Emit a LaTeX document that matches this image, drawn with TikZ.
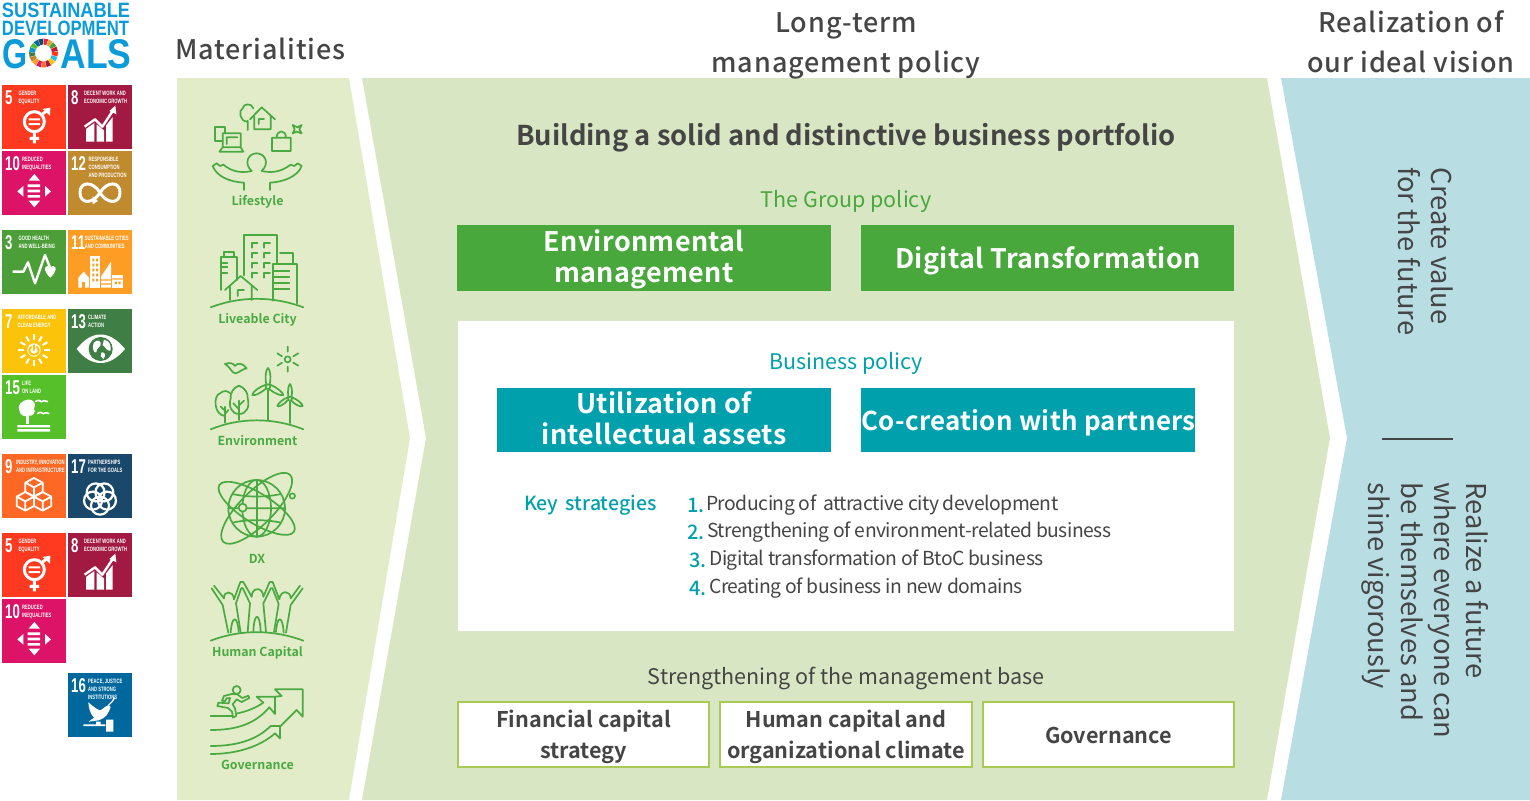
\documentclass[tikz,border=0pt]{standalone}
\usepackage{fontspec}
\usepackage{graphicx}
\usetikzlibrary{calc}
\setmainfont{Noto Sans CJK JP}[BoldFont={Noto Sans CJK JP Bold}]
\newfontfamily\medf{Noto Sans CJK JP Medium}
\newfontfamily\medsp{Noto Sans CJK JP Medium}[LetterSpace=3]
\newfontfamily\boldsp{Noto Sans CJK JP Bold}[LetterSpace=1.2]
\newfontfamily\tightf{Noto Sans CJK JP}[LetterSpace=-2.5]
\newfontfamily\sdgf{Liberation Sans}[FakeStretch=.66,BoldFont={Liberation Sans Bold}]
\newfontfamily\logof{Liberation Sans}[BoldFont={Liberation Sans Bold}]
\definecolor{cfive}{HTML}{FF3A21}
\definecolor{ceight}{HTML}{A21942}
\definecolor{cten}{HTML}{DD1367}
\definecolor{ctwelve}{HTML}{BF8B2E}
\definecolor{cthree}{HTML}{4C9F38}
\definecolor{celeven}{HTML}{FD9D24}
\definecolor{cseven}{HTML}{FCC30B}
\definecolor{cthirteen}{HTML}{3F7E44}
\definecolor{cfifteen}{HTML}{56C02B}
\definecolor{cnine}{HTML}{FD6925}
\definecolor{cseventeen}{HTML}{19486A}
\definecolor{csixteen}{HTML}{00689D}
\definecolor{cone}{HTML}{E5243B}
\definecolor{ctwo}{HTML}{DDA63A}
\definecolor{cfour}{HTML}{C5192D}
\definecolor{csix}{HTML}{26BDE2}
\definecolor{cfourteen}{HTML}{0A97D9}
\definecolor{logoblue}{HTML}{0A9BD8}
\definecolor{leftbg}{HTML}{E2ECC8}
\definecolor{midbg}{HTML}{D8E6C3}
\definecolor{rightbg}{HTML}{B8DEE3}
\definecolor{grn}{HTML}{48A83C}
\definecolor{icongrn}{HTML}{4AAA42}
\definecolor{teal1}{HTML}{00A1AC}
\definecolor{ink}{HTML}{454545}
\definecolor{boxline}{HTML}{A8CB55}
\tikzset{
  head/.style={inner sep=0,text=ink,align=center,font=\medsp\fontsize{27}{40}\selectfont},
  sub/.style={inner sep=0,align=center,font=\fontsize{21.5}{28}\selectfont},
  bar/.style={inner sep=0,text=white,align=center,font=\boldsp\fontsize{26.9}{31}\selectfont},
  basebox/.style={draw=boxline,line width=1.4pt,fill=white,inner sep=0,minimum height=65pt},
  base/.style={inner sep=0,text=ink,align=center,font=\bfseries\fontsize{21.6}{31}\selectfont},
  vert/.style={inner sep=0,text=ink,align=left,rotate=-90,font=\fontsize{27.3}{32.7}\selectfont},
  item/.style={inner sep=0,anchor=west,text=ink,font=\tightf\fontsize{19.3}{24}\selectfont},
  num/.style={inner sep=0,anchor=west,text=teal1,font=\medf\fontsize{20}{24}\selectfont},
  ilabel/.style={inner sep=0,text=icongrn,font=\bfseries\fontsize{12.4}{14}\selectfont},
  ic/.style={draw=icongrn,line width=1.7pt,line cap=round,line join=round},
  tile/.style={inner sep=0,minimum size=64pt},
  wl/.style={draw=white,line width=2.4pt,line join=round},
  tnum/.style={inner sep=0,anchor=west,text=white,font=\sdgf\bfseries\fontsize{20}{20}\selectfont},
  ttxt/.style={inner sep=0,anchor=north west,text=white,align=left,font=\sdgf\bfseries\fontsize{6.3}{7.7}\selectfont},
}
% ---- SDG tile icons: local coordinates, 192 units = tile side
\newcommand\icfive{
  \draw[wl,line width=3pt] (97,110) circle (30);
  \fill[white] (80,100) rectangle (114,106) (80,114) rectangle (114,120);
  \draw[wl,line width=3pt] (97,140)--(97,175) (83,160)--(111,160) (118,90)--(136,76);
  \fill[white] (122,72)--(145,68)--(144,92)--cycle;
}
\newcommand\iceight{
  \fill[white] (54,132)--(79,114)--(79,170)--(54,170)--cycle (86,118)--(108,136)--(108,170)--(86,170)--cycle (114,122)--(134,96)--(134,170)--(114,170)--cycle;
  \draw[wl] (50,125)--(81,103)--(103,125)--(134,78);
  \fill[white] (124,78)--(142,62)--(145,88)--cycle;
}
\newcommand\icten{
  \fill[white] (97,69)--(114,89)--(80,89)--cycle (97,169)--(114,149)--(80,149)--cycle (46,121)--(64,105)--(64,137)--cycle (147,121)--(129,105)--(129,137)--cycle;
  \fill[white] (77,100) rectangle (114,108) (77,116) rectangle (114,124) (77,132) rectangle (114,140);
}
\newcommand\ictwelve{
  \draw[wl,line width=3pt] (96,125) .. controls (75,90) and (36,90) .. (36,125) .. controls (36,160) and (75,160) .. (96,125) .. controls (117,90) and (156,90) .. (156,125) .. controls (156,160) and (117,160) .. (96,125);
  \fill[white] (74,136)--(90,150)--(74,160)--cycle;
}
\newcommand\icthree{
  \draw[wl] (32,125)--(64,125)--(78,97)--(99,160)--(129,75)--(146,118);
  \fill[white] (145,143) .. controls (125,125) and (125,108) .. (137,108) .. controls (142,108) and (145,113) .. (145,115) .. controls (145,113) and (148,108) .. (153,108) .. controls (165,108) and (165,125) .. (145,143)--cycle;
}
\newcommand\iceleven{
  \fill[white] (66,77) rectangle (96,173);
  \fill[white] (31,143)--(47,125)--(63,143)--(63,173)--(31,173)--cycle;
  \fill[white] (99,173)--(99,140)--(129,95)--(129,173)--cycle;
  \fill[white] (133,135) rectangle (164,173);
  \fill[celeven] (73,86) rectangle (79,94) (84,86) rectangle (90,94) (73,101) rectangle (79,109) (84,101) rectangle (90,109) (73,116) rectangle (79,124) (84,116) rectangle (90,124) (73,131) rectangle (79,139) (84,131) rectangle (90,139) (73,146) rectangle (79,154) (84,146) rectangle (90,154);
  \fill[celeven] (42,155) rectangle (52,173);
  \fill[celeven] (99,148) rectangle (129,152) (99,160) rectangle (129,164);
  \fill[celeven] (133,145) rectangle (164,149) (140,155) rectangle (147,162) (151,155) rectangle (158,162);
}
\newcommand\icseven{
  \fill[white] (96,123) circle (20);
  \draw[cseven,line width=2pt,line cap=round] (105,114) .. controls (116,125) and (108,137) .. (96,137) .. controls (84,137) and (76,125) .. (87,114);
  \draw[cseven,line width=2pt,line cap=round] (96,108)--(96,123);
  \foreach \a in {0,30,...,330}{\draw[white,line width=2pt] (96,123)++(\a:30)--++(\a:17);}
}
\newcommand\icthirteen{
  \fill[white] (26,120) .. controls (70,62) and (125,62) .. (171,120) .. controls (125,176) and (70,176) .. (26,120)--cycle;
  \fill[cthirteen] (98,120) circle (36);
  \fill[white] (78,100) .. controls (90,90) and (100,95) .. (98,108) .. controls (95,120) and (85,115) .. (85,130) .. controls (78,135) and (70,115) .. (78,100)--cycle;
  \fill[white] (108,92) .. controls (125,95) and (130,110) .. (128,125) .. controls (115,128) and (112,112) .. (104,108)--cycle;
  \fill[white] (100,130) .. controls (112,128) and (115,140) .. (106,150) .. controls (98,148) and (96,138) .. (100,130)--cycle;
}
\newcommand\icfifteen{
  \fill[white] (76,74) .. controls (100,72) and (102,92) .. (96,100) .. controls (104,112) and (90,126) .. (80,122) .. controls (70,128) and (52,120) .. (52,106) .. controls (44,92) and (60,76) .. (76,74)--cycle;
  \fill[white] (73,120) rectangle (80,146);
  \fill[white] (46,150) rectangle (144,157) (46,162) rectangle (144,170);
  \draw[white,line width=1.6pt] (100,80) .. controls (108,74) and (114,76) .. (118,80) .. controls (122,76) and (130,76) .. (138,80);
  \draw[white,line width=1.6pt] (106,116) .. controls (114,110) and (120,112) .. (124,116) .. controls (128,112) and (134,112) .. (142,116);
}
\newcommand\cube[2]{\draw[wl,line width=1.8pt] (#1-26,#2-14)--(#1,#2-28)--(#1+26,#2-14)--(#1+26,#2+14)--(#1,#2+28)--(#1-26,#2+14)--cycle (#1-26,#2-14)--(#1,#2)--(#1+26,#2-14) (#1,#2)--(#1,#2+28);}
\newcommand\icnine{\cube{96}{100}\cube{70}{142}\cube{122}{142}}
\newcommand\icseventeen{
  \foreach \a in {90,162,234,306,18}{\draw[white,line width=2.2pt] (96,133)++(\a:22) circle (27);}
}
\newcommand\icsixteen{
  \fill[white] (61,88) .. controls (75,100) and (85,108) .. (96,112) .. controls (104,110) and (110,100) .. (122,96) -- (128,102) .. controls (122,122) and (112,136) .. (92,142) -- (62,146) -- (78,134) .. controls (66,122) and (62,105) .. (61,88)--cycle;
  \draw[white,line width=1.3pt] (122,96) .. controls (130,90) and (136,82) .. (140,74);
  \fill[white] (46,154) rectangle (112,159) (114,140) rectangle (136,176) (84,146) rectangle (98,154);
}
% name, x, y, colour, number, text x, text, icon
\newcommand\sdgtile[8]{
  \node[tile,fill=#4] (#1) at (#2+32,#3+32) {};
  \begin{scope}[shift={(#2,#3)},x=.33333pt,y=-.33333pt]
    #8
    \node[tnum] (#1n) at (9,38) {#5};
    \node[ttxt] (#1t) at (#6,18) {#7};
  \end{scope}
}
\begin{document}
\begin{tikzpicture}[x=1pt,y=-1pt]
\useasboundingbox (0,0) rectangle (1530,800);
% ---------- panels
\fill[leftbg] (177,78)--(349,78)--(410,438)--(349,800)--(177,800)--cycle;
\fill[midbg] (362,78)--(1267,78)--(1330,438)--(1267,800)--(362,800)--(426,438)--cycle;
\fill[rightbg] (1281,78)--(1530,78)--(1530,800)--(1281,800)--(1347,438)--cycle;
% ---------- logo
\node[inner sep=0,text=logoblue,anchor=center] (lg1) at (66,10.5) {\resizebox{128pt}{14.5pt}{\logof\bfseries SUSTAINABLE}};
\node[inner sep=0,text=logoblue,anchor=center] (lg2) at (65.5,28) {\resizebox{127pt}{14.5pt}{\logof\bfseries DEVELOPMENT}};
\node[inner sep=0,text=logoblue,anchor=center] (lg3) at (15,54.5) {\resizebox{25pt}{29pt}{\logof\bfseries G}};
\node[inner sep=0,text=logoblue,anchor=center] (lg4) at (96,54.5) {\resizebox{71pt}{29pt}{\logof\bfseries ALS}};
\foreach \c [count=\i from 0] in {cone,ctwo,cthree,cfour,cfive,csix,cseven,ceight,cnine,cten,celeven,ctwelve,cthirteen,cfourteen,cfifteen,csixteen,cseventeen}{
  \pgfmathsetmacro\aa{90-\i*360/17}
  \pgfmathsetmacro\ab{\aa-360/17+2}
  \fill[\c] ($(43.5,53)+(\aa:14.5pt)$) arc[start angle=\aa,end angle=\ab,radius=14.5pt] -- ($(43.5,53)+(\ab:8.5pt)$) arc[start angle=\ab,end angle=\aa,radius=8.5pt] -- cycle;
}
% ---------- SDG tiles
\sdgtile{ta}{2}{85}{cfive}{5}{49}{GENDER\\EQUALITY}{\icfive}
\sdgtile{tb}{68}{85}{ceight}{8}{48}{DECENT WORK AND\\ECONOMIC GROWTH}{\iceight}
\sdgtile{tc}{2}{151}{cten}{10}{60}{REDUCED\\INEQUALITIES}{\icten}
\sdgtile{td}{68}{151}{ctwelve}{12}{61}{RESPONSIBLE\\CONSUMPTION\\AND PRODUCTION}{\ictwelve}
\sdgtile{te}{2}{230}{cthree}{3}{49}{GOOD HEALTH\\AND WELL-BEING}{\icthree}
\sdgtile{tf}{68}{230}{celeven}{11}{50}{SUSTAINABLE CITIES\\AND COMMUNITIES}{\iceleven}
\sdgtile{tg}{2}{309}{cseven}{7}{46}{AFFORDABLE AND\\CLEAN ENERGY}{\icseven}
\sdgtile{th}{68}{309}{cthirteen}{13}{60}{CLIMATE\\ACTION}{\icthirteen}
\sdgtile{ti}{2}{375}{cfifteen}{15}{60}{LIFE\\ON LAND}{\icfifteen}
\sdgtile{tj}{2}{454}{cnine}{9}{42}{INDUSTRY, INNOVATION\\AND INFRASTRUCTURE}{\icnine}
\sdgtile{tk}{68}{454}{cseventeen}{17}{60}{PARTNERSHIPS\\FOR THE GOALS}{\icseventeen}
\sdgtile{tl}{2}{533}{cfive}{5}{49}{GENDER\\EQUALITY}{\icfive}
\sdgtile{tm}{68}{533}{ceight}{8}{48}{DECENT WORK AND\\ECONOMIC GROWTH}{\iceight}
\sdgtile{tn}{2}{599}{cten}{10}{60}{REDUCED\\INEQUALITIES}{\icten}
\sdgtile{to}{68}{673}{csixteen}{16}{60}{PEACE, JUSTICE\\AND STRONG\\INSTITUTIONS}{\icsixteen}
% ---------- headers
\node[head] (h1) at (260.5,49) {Materialities};
\node[head] (h2) at (846,46) {Long-term\\management policy};
\node[head] (h3) at (1411,42) {Realization of\\our ideal vision};
% ---------- middle
\node[inner sep=0,text=ink,font=\bfseries\fontsize{27.3}{32}\selectfont] (title) at (846,138) {Building a solid and distinctive business portfolio};
\node[sub,text=grn] (gp) at (846,201) {The Group policy};
\fill[grn] (457,225) rectangle (831,291);
\fill[grn] (861,225) rectangle (1234,291);
\node[bar] (env) at (644,259) {Environmental\\management};
\node[bar] (dig) at (1048,261) {Digital Transformation};
\fill[white] (458,321) rectangle (1234,631);
\node[sub,text=teal1] (bp) at (846,363) {Business policy};
\fill[teal1] (497,388) rectangle (831,452);
\fill[teal1] (861,388) rectangle (1195,452);
\node[bar] (ut) at (664,418) {Utilization of\\intellectual assets};
\node[bar,font=\boldsp\fontsize{25.9}{31}\selectfont] (co) at (1028.5,423) {Co-creation with partners};
\node[num,font=\medf\fontsize{19.5}{24}\selectfont] (ks) at (524,505) {Key\hspace{3pt} strategies};
\node[num] (n1) at (687,505) {1.};
\node[item] (i1) at (706,505) {Producing of\hspace{3pt} attractive city development};
\node[num] (n2) at (687,532) {2.};
\node[item] (i2) at (707,532) {Strengthening of environment-related business};
\node[num] (n3) at (689,560) {3.};
\node[item] (i3) at (709,560) {Digital transformation of BtoC business};
\node[num] (n4) at (689,588) {4.};
\node[item] (i4) at (709,588) {Creating of business in new domains};
\node[sub,text=ink] (sm) at (846,678) {Strengthening of the management base};
\node[basebox,minimum width=251pt] (b1) at (583.5,734.5) {};
\node[basebox,minimum width=252pt] (b2) at (846,734.5) {};
\node[basebox,minimum width=251pt] (b3) at (1108.5,734.5) {};
\node[base] (t1) at (583.5,736.5) {Financial capital\\strategy};
\node[base] (t2) at (846,736.5) {Human capital and\\organizational climate};
\node[base] (t3) at (1108.5,735) {Governance};
% ---------- right
\node[vert] (v1) at (1426,251.5) {Create value\\for the future};
\coordinate (la) at (1382,439); \coordinate (lb) at (1453,439);
\draw[ink,line width=1.3pt] (la)--(lb);
\node[vert] (v2) at (1425.5,610.5) {Realize a future\\where everyone can\\be themselves and\\shine vigorously};
% ---------- materiality icons
\node[ilabel] (m1) at (257.5,202) {Lifestyle};
\node[ilabel] (m2) at (257.5,320) {Liveable City};
\node[ilabel] (m3) at (257.5,441) {Environment};
\node[ilabel] (m4) at (257,558.5) {DX};
\node[ilabel] (m5) at (257.5,653) {Human Capital};
\node[ilabel] (m6) at (257.5,765) {Governance};
\begin{scope}[shift={(200,90)},x=.33333pt,y=-.33333pt]
  % Lifestyle
  \draw[ic] (143,120)--(143,92) (143,95) .. controls (118,95) and (115,60) .. (128,55) .. controls (130,40) and (155,38) .. (160,55);
  \draw[ic] (150,88)--(185,52)--(225,88) (163,80)--(163,118)--(212,118)--(212,78) (176,102)--(176,87)--(192,87);
  \draw[ic] (68,152)--(46,152)--(46,110)--(76,110)--(76,130);
  \draw[ic] (68,172)--(68,130)--(122,130)--(122,172) (68,172)--(58,185)--(130,185)--(122,172)--cycle (80,162)--(80,142)--(112,142);
  \draw[ic] (216,143) rectangle (272,183) (230,143) .. controls (230,118) and (258,118) .. (258,143);
  \draw[ic] (278,105)--(292,112)--(305,105)--(298,118)--(305,130)--(290,125)--(278,130)--(284,118)--cycle;
  \draw[ic] (155,243) .. controls (130,220) and (145,190) .. (170,190) .. controls (195,190) and (210,220) .. (185,243);
  \draw[ic] (155,243) .. controls (115,252) and (90,240) .. (70,224)--(60,228)--(50,220)--(38,228) .. controls (50,260) and (90,276) .. (132,278)--(132,300);
  \draw[ic] (185,243) .. controls (225,252) and (250,240) .. (272,224)--(283,228)--(293,220)--(305,228) .. controls (293,260) and (250,276) .. (210,278)--(210,300);
  % Liveable City
  \draw[ic] (32,652) .. controls (120,618) and (220,618) .. (310,652);
  \draw[ic] (133,556)--(133,436)--(230,436)--(230,520);
  \foreach \yy in {458,488,518,548}{\draw[ic] (155,\yy+15)--(155,\yy)--(172,\yy) (192,\yy+15)--(192,\yy)--(210,\yy);}
  \draw[ic] (240,490)--(278,490)--(278,520);
  \draw[ic] (220,632)--(220,522)--(290,522)--(290,640) (220,542)--(268,542) (220,560)--(268,560) (220,578)--(268,578) (220,598)--(268,598);
  \draw[ic] (64,600)--(64,500)--(112,500)--(112,570) (72,498)--(72,485)--(102,485)--(102,498) (64,518)--(82,518) (64,532)--(82,532) (64,548)--(82,548);
  \draw[ic] (75,600)--(122,558)--(172,600) (90,590)--(90,630) (155,590)--(155,630) (113,618)--(113,600)--(132,600);
\end{scope}
\begin{scope}[shift={(200,340)},x=.33333pt,y=-.33333pt]
  % Environment
  \draw[ic] (32,268) .. controls (120,232) and (220,232) .. (310,268);
  \draw[ic] (263,58) circle (9);
  \draw[ic] (263,20)--(263,35) (263,80)--(263,95) (232,40)--(246,49) (232,77)--(246,68) (280,49)--(295,40) (280,68)--(295,77);
  \draw[ic] (75,72) .. controls (90,66) and (100,70) .. (105,78) .. controls (112,68) and (128,68) .. (140,85) .. controls (128,86) and (115,100) .. (105,100) .. controls (95,98) and (90,80) .. (75,72)--cycle;
  \draw[ic] (75,248)--(75,200) (75,212)--(62,200) (75,222)--(85,210) (75,228) .. controls (40,225) and (40,165) .. (60,160) .. controls (70,150) and (85,152) .. (90,160);
  \draw[ic] (117,240)--(117,182) (117,208)--(100,190) (117,196)--(132,182) (117,222) .. controls (95,222) and (85,200) .. (92,175) .. controls (90,160) and (100,142) .. (117,137) .. controls (134,142) and (145,160) .. (143,175) .. controls (150,200) and (140,222) .. (117,222)--cycle;
  \draw[ic] (204,240)--(204,150) (204,140) circle (7);
  \draw[ic] (199,134) .. controls (194,110) and (198,88) .. (204,84) .. controls (210,88) and (214,110) .. (209,134) (198,146) .. controls (180,160) and (165,168) .. (157,165) .. controls (158,155) and (178,140) .. (198,134) (211,134) .. controls (230,142) and (250,158) .. (250,165) .. controls (240,168) and (225,160) .. (208,148);
  \draw[ic] (270,250)--(270,186) (270,176) circle (6);
  \draw[ic] (265,170) .. controls (262,150) and (266,136) .. (270,132) .. controls (274,136) and (278,150) .. (275,170) (264,180) .. controls (250,195) and (236,202) .. (232,198) .. controls (234,190) and (250,176) .. (264,172) (276,172) .. controls (292,178) and (308,192) .. (308,198) .. controls (300,202) and (286,194) .. (274,182);
  % DX
  \draw[ic] (170,505) circle (85);
  \draw[ic] (170,505) ellipse (43 and 85);
  \draw[ic] (170,420)--(170,590);
  \draw[ic] (98,462) .. controls (140,472) and (200,472) .. (242,462) (85,505)--(255,505) (98,548) .. controls (140,538) and (200,538) .. (242,548);
  \draw[ic,rotate around={45:(170,505)}] (170,505) ellipse (142 and 50);
  \draw[ic,rotate around={-32:(170,505)}] (170,505) ellipse (132 and 45);
  \draw[ic,fill=leftbg] (128,503) circle (12);
  \draw[ic,fill=leftbg] (277,468) circle (8);
\end{scope}
\begin{scope}[shift={(200,570)},x=.33333pt,y=-.33333pt]
  % Human capital
  \draw[ic] (32,212) .. controls (120,178) and (220,178) .. (310,212);
  \draw[ic] (72,85) .. controls (70,62) and (100,60) .. (102,88);
  \draw[ic] (155,80) .. controls (155,50) and (190,50) .. (190,80);
  \draw[ic] (238,88) .. controls (240,60) and (272,60) .. (272,85);
  \draw[ic] (42,47)--(72,85) (35,55)--(68,105)--(85,188);
  \draw[ic] (102,88)--(121,36)--(130,36)--(155,80) (124,54)--(108,100)--(122,188) (128,54)--(150,100)--(143,186);
  \draw[ic] (190,80)--(209,36)--(218,36)--(238,88) (213,54)--(190,100)--(198,186) (217,54)--(236,102)--(222,186);
  \draw[ic] (272,85)--(300,47) (308,55)--(272,105)--(258,188);
  \draw[ic] (92,188) .. controls (95,135) and (113,135) .. (116,186);
  \draw[ic] (160,186) .. controls (162,125) and (180,125) .. (182,186);
  \draw[ic] (228,186) .. controls (231,135) and (248,135) .. (251,188);
  % Governance
  \draw[ic] (32,437)--(96,437);
  \draw[ic] (32,480) .. controls (110,480) and (165,462) .. (208,412);
  \draw[ic] (112,430) .. controls (140,425) and (170,412) .. (190,398)--(170,380)--(225,380)--(225,432)--(208,412);
  \draw[ic] (225,380)--(245,378)--(225,358)--(308,358)--(308,440)--(290,420)--(240,470);
  \draw[ic] (32,528) .. controls (110,528) and (170,510) .. (212,468)--(240,468)--(240,505)--(225,490) .. controls (180,530) and (110,552) .. (32,552);
  \draw[ic] (110,360) circle (12);
  \draw[ic] (95,372)--(72,378)--(66,392)--(74,394)--(80,385)--(90,384)--(86,400)--(55,398)--(52,408)--(84,414)--(96,425)--(99,443)--(109,437)--(105,415)--(98,403)--(110,388)--(125,396)--(148,384)--(145,377)--(127,384)--(112,373)--cycle;
\end{scope}
\end{tikzpicture}
\end{document}
